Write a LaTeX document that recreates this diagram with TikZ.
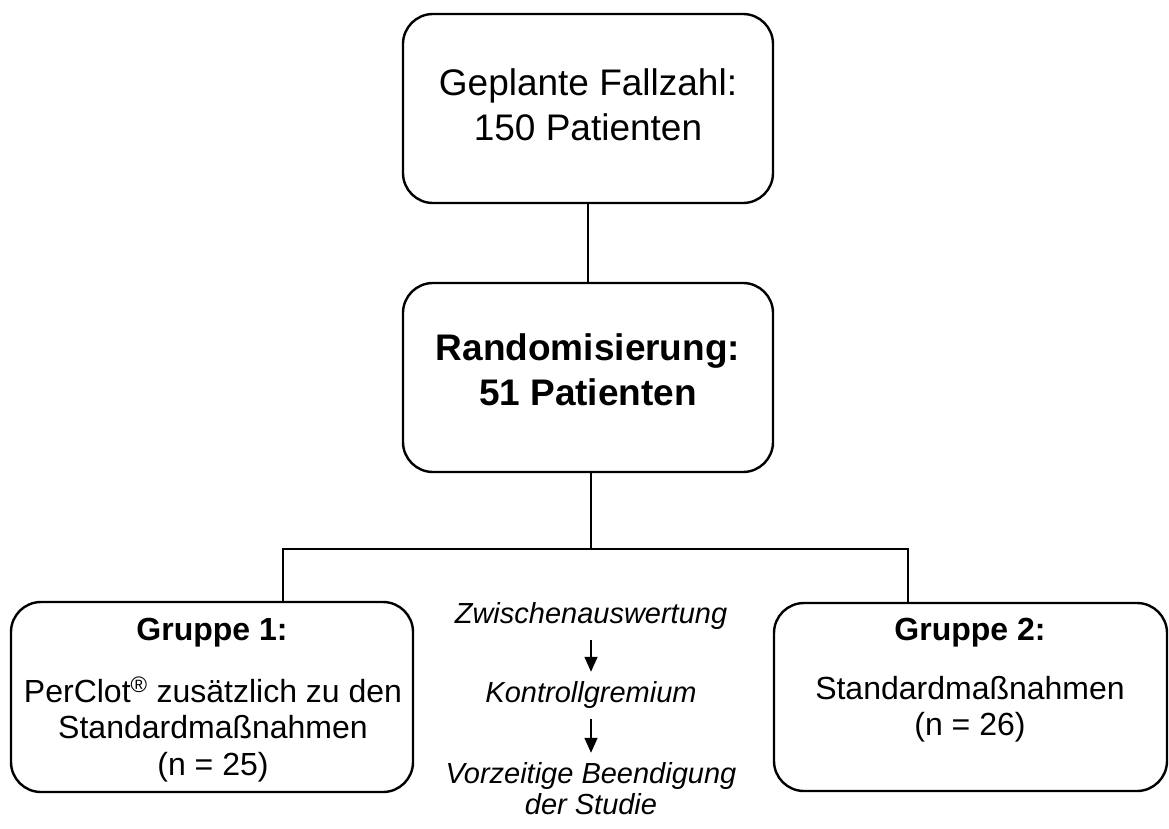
\documentclass[tikz,border=0pt]{standalone}
\usepackage{fontspec}
\setmainfont{Liberation Sans}
\usetikzlibrary{arrows.meta}
\begin{document}
\begin{tikzpicture}[x=1pt,y=-1pt,
  box/.style={draw, line width=2.4pt, rounded corners=30pt, inner sep=0pt},
  conn/.style={line width=2pt},
  flow/.style={line width=1.5pt, -{Triangle[width=13pt,length=15pt]}, shorten <=10.5pt, shorten >=9pt},
  bigtxt/.style={font=\fontsize{37}{45}\selectfont, anchor=base, inner sep=0pt},
  bigbold/.style={font=\fontsize{37}{45}\selectfont\bfseries, anchor=base, inner sep=0pt},
  grptxt/.style={font=\fontsize{32}{37}\selectfont, anchor=base, inner sep=0pt},
  grphead/.style={font=\fontsize{32}{37}\selectfont\bfseries, anchor=base, inner sep=0pt},
  midtxt/.style={font=\fontsize{29}{31}\selectfont\itshape, anchor=base, inner sep=0pt}]
\useasboundingbox (0,0) rectangle (1169,828);

% boxes
\node[box, minimum width=370pt, minimum height=189pt] (topbox) at (588,108.5) {};
\node[box, minimum width=370pt, minimum height=189pt] (midbox) at (588,377.5) {};
\node[box, minimum width=402pt, minimum height=190pt] (g1) at (212,697) {};
\node[box, minimum width=393pt, minimum height=188pt] (g2) at (970.5,697) {};

% texts
\node[bigtxt] (t1) at (588,95) {Geplante Fallzahl:};
\node[bigtxt] (t2) at (588,140) {150 Patienten};
\node[bigbold] (m1) at (588,360) {Randomisierung:};
\node[bigbold] (m2) at (588,405) {51 Patienten};

\node[grphead] (g1h) at (212,640) {Gruppe 1:};
\node[grptxt] (g1a) at (213,702) {PerClot\textsuperscript{®} zusätzlich zu den};
\node[grptxt] (g1b) at (213,738.5) {Standardmaßnahmen};
\node[grptxt] (g1c) at (213,775) {(n = 25)};

\node[grphead] (g2h) at (970,640) {Gruppe 2:};
\node[grptxt] (g2a) at (970,699) {Standardmaßnahmen};
\node[grptxt] (g2b) at (970,735.5) {(n = 26)};

\node[midtxt] (z) at (591,623) {Zwischenauswertung};
\node[midtxt] (k) at (591,702) {Kontrollgremium};
\node[midtxt] (v1) at (591,783) {Vorzeitige Beendigung};
\node[midtxt] (v2) at (591,814) {der Studie};

% connectors
\coordinate (jl) at (283,549);
\coordinate (jm) at (591,549);
\coordinate (jr) at (908,549);
\draw[conn] (topbox.south) -- (midbox.north);
\draw[conn] (jm |- midbox.south) -- (jm);
\draw[conn] (jl |- g1.north) -- (jl) -- (jr) -- (jr |- g2.north);

\draw[flow] (z.south) -- (k.north);
\draw[flow] (k.south) -- (v1.north);
\end{tikzpicture}
\end{document}
